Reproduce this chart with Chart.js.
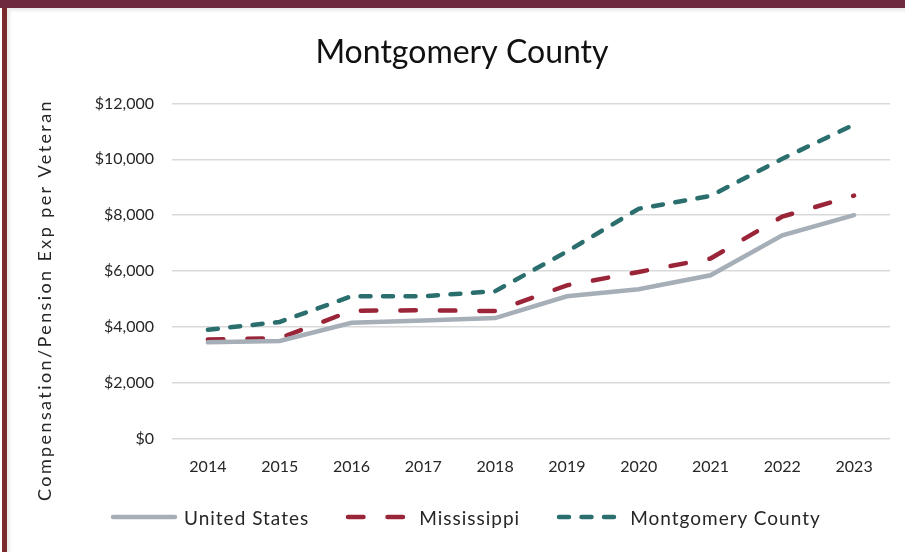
<!DOCTYPE html>
<html>
<head>
<meta charset="utf-8">
<script src="https://cdn.jsdelivr.net/npm/chart.js@4.4.1/dist/chart.umd.min.js"></script>
<style>
  html, body { margin: 0; padding: 0; background: #fff; }
  #frame { position: relative; width: 905px; height: 552px; overflow: hidden; background: #fff; }
  #topBar { position: absolute; left: 0; top: 0; width: 905px; height: 8px; background: #6c2b3f; }
  #leftBar { position: absolute; left: 2px; top: 8px; width: 5px; height: 544px; background: #7a2a2c; }
  #shadow { position: absolute; left: 7px; top: 8px; width: 898px; height: 544px; box-shadow: inset 3px 3px 3px rgba(0,0,0,0.08); }
  #wrap { position: absolute; left: 10px; top: 10px; width: 895px; height: 542px; }
  #legend { position: absolute; left: 110px; top: 505px; height: 24px; display: flex; align-items: center;
            font-family: Lato, sans-serif; font-size: 19px; letter-spacing: 1px; color: #262626; }
  #legend .item { display: flex; align-items: center; margin-right: 36px; }
  #legend svg { margin-right: 6px; }
</style>
</head>
<body>
<div id="frame">
  <div id="topBar"></div>
  <div id="leftBar"></div>
  <div id="shadow"></div>
  <div id="wrap"><canvas id="vetChart"></canvas></div>
  <div id="legend"></div>
</div>
<script>
const years = ['2014', '2015', '2016', '2017', '2018', '2019', '2020', '2021', '2022', '2023'];
const unitedStates = [3450, 3500, 4150, 4230, 4320, 5100, 5350, 5850, 7280, 8000];
const mississippi = [3550, 3600, 4580, 4600, 4570, 5490, 5970, 6450, 7950, 8700];
const montgomery = [3900, 4180, 5100, 5100, 5280, 6700, 8230, 8690, 10020, 11240];
const yTicks = [0, 2000, 4000, 6000, 8000, 10000, 12000];

const FONT = 'Lato';
const TEXT = '#262626';

// y axis title drawn by hand so it can be letter-spaced like the original
const yTitlePlugin = {
    id: 'yTitle',
    afterDraw(chart) {
        const ctx = chart.ctx;
        ctx.save();
        ctx.translate(35, 290);
        ctx.rotate(-Math.PI / 2);
        ctx.font = '18px ' + FONT;
        ctx.fillStyle = TEXT;
        ctx.textAlign = 'center';
        ctx.textBaseline = 'middle';
        if ('letterSpacing' in ctx) ctx.letterSpacing = '2.4px';
        ctx.fillText('Compensation/Pension Exp per Veteran', 0, 0);
        ctx.restore();
    }
};

// html legend so the line samples keep their dashes
const htmlLegendPlugin = {
    id: 'htmlLegend',
    afterUpdate(chart) {
        const box = document.getElementById('legend');
        box.innerHTML = '';
        chart.data.datasets.forEach(ds => {
            const item = document.createElement('div');
            item.className = 'item';
            const dash = ds.borderDash ? ds.borderDash.join(' ') : 'none';
            item.innerHTML =
                '<svg width="68" height="10"><line x1="3" y1="5" x2="65" y2="5" stroke="' + ds.borderColor +
                '" stroke-width="' + ds.borderWidth + '" stroke-linecap="round" stroke-dasharray="' + dash + '"/></svg>';
            const span = document.createElement('span');
            span.textContent = ds.label;
            item.appendChild(span);
            box.appendChild(item);
        });
    }
};

const ctx = document.getElementById('vetChart').getContext('2d');
new Chart(ctx, {
    type: 'line',
    data: {
        labels: years,
        datasets: [{
            label: 'United States',
            data: unitedStates,
            borderColor: '#a6aeb8',
            backgroundColor: '#a6aeb8',
            borderWidth: 4.5,
            borderCapStyle: 'round',
            pointRadius: 0,
            tension: 0
        }, {
            label: 'Mississippi',
            data: mississippi,
            borderColor: '#9b2538',
            backgroundColor: '#9b2538',
            borderWidth: 4.5,
            borderDash: [15.5, 24],
            borderCapStyle: 'round',
            pointRadius: 0,
            tension: 0
        }, {
            label: 'Montgomery County',
            data: montgomery,
            borderColor: '#2a6e6e',
            backgroundColor: '#2a6e6e',
            borderWidth: 4.5,
            borderDash: [10, 12.5],
            borderCapStyle: 'round',
            pointRadius: 0,
            tension: 0
        }]
    },
    options: {
        responsive: true,
        maintainAspectRatio: false,
        animation: false,
        layout: { padding: { left: 24, right: 15, top: 23, bottom: 58 } },
        plugins: {
            title: {
                display: true,
                text: 'Montgomery County',
                color: '#111',
                font: { family: FONT, size: 32, weight: 'normal' },
                padding: { top: 0, bottom: 32 }
            },
            legend: { display: false },
            tooltip: { enabled: false }
        },
        scales: {
            x: {
                offset: true,
                grid: { display: false, drawTicks: false },
                border: { display: false },
                ticks: {
                    color: TEXT,
                    padding: 18,
                    font: { family: FONT, size: 16 }
                }
            },
            y: {
                min: yTicks[0],
                max: yTicks[yTicks.length - 1],
                afterBuildTicks(axis) {
                    axis.ticks = yTicks.map(v => ({ value: v }));
                },
                afterFit(axis) {
                    axis.width = 138;
                },
                grid: { color: '#d9d9d9', lineWidth: 1.5, drawTicks: false },
                border: { display: false },
                ticks: {
                    color: TEXT,
                    padding: 18,
                    font: { family: FONT, size: 16 },
                    callback: v => '$' + v.toLocaleString('en-US')
                }
            }
        }
    },
    plugins: [yTitlePlugin, htmlLegendPlugin]
});
</script>
</body>
</html>
